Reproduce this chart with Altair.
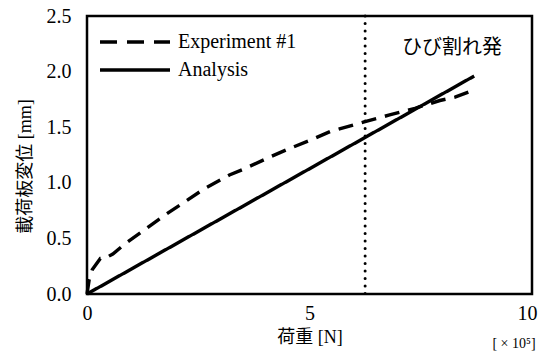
import altair as alt
import pandas as pd

# Data (load in units of 10^5 N, displacement in mm)
exp_x = [0.0, 0.05, 0.12, 0.3, 0.4, 0.58, 0.85, 1.2, 1.75, 2.2, 2.65, 3.2, 3.5, 4.1,
         4.56, 5.0, 5.46, 6.25, 6.8, 7.37, 7.93, 8.27, 8.6, 8.7]
exp_y = [0.0, 0.13, 0.22, 0.32, 0.32, 0.36, 0.45, 0.55, 0.71, 0.83, 0.95, 1.07, 1.12, 1.23,
         1.31, 1.38, 1.46, 1.55, 1.61, 1.67, 1.74, 1.77, 1.82, 1.84]
ana_x = [0.0, 8.7]
ana_y = [0.0, 1.96]
crack_x = [6.25]
crack_label = ["ひび割れ発"]
crack_label_x = [8.2]
crack_label_y = [2.21]
series = ["Experiment #1", "Analysis"]
x_ticks = [0, 5, 10]
y_ticks = [0, 0.5, 1.0, 1.5, 2.0, 2.5]

df = pd.concat([
    pd.DataFrame({"load": exp_x, "disp": exp_y, "series": series[0], "order": range(len(exp_x))}),
    pd.DataFrame({"load": ana_x, "disp": ana_y, "series": series[1], "order": range(len(ana_x))}),
])
legend_df = pd.DataFrame({"series": series, "row": list(range(len(series)))})

SERIF = "Liberation Serif, Noto Sans CJK JP"
SANS = "Noto Sans CJK JP"
DASH = alt.Scale(domain=series, range=[[15, 9], [1, 0]])

x_scale = alt.Scale(domain=[0, 10], nice=False)
y_scale = alt.Scale(domain=[0, 2.5], nice=False)
x_axis = alt.Axis(values=x_ticks, title="荷重 [N]", format="d", labelFlush=False,
                  labelOffset={"condition": {"test": "datum.value == 10", "value": -5}, "value": 0},
                  titleFont=SERIF, titleFontSize=18, titleFontWeight="normal", titlePadding=5)
y_axis = alt.Axis(values=y_ticks, format=".1f", labelFlush=False,
                  title="載荷板変位 [mm]", titleFont=SERIF, titleFontSize=18,
                  titleFontWeight="normal", titlePadding=12, titleY=150)
X = alt.X("load:Q", scale=x_scale, axis=x_axis)
Y = alt.Y("disp:Q", scale=y_scale, axis=y_axis)

lines = alt.Chart(df).mark_line(color="black", strokeWidth=3.4).encode(
    x=X, y=Y,
    strokeDash=alt.StrokeDash("series:N", scale=DASH, legend=None),
    order="order:Q",
)

crack = alt.Chart(pd.DataFrame({"load": crack_x})).mark_rule(
    color="black", strokeWidth=3, strokeDash=[0.1, 7.4], strokeCap="round"
).encode(x=X)

label = alt.Chart(pd.DataFrame({"load": crack_label_x, "disp": crack_label_y, "t": crack_label})).mark_text(
    font=SANS, fontSize=20, color="black"
).encode(x=X, y=Y, text="t:N")

unit = alt.Chart(pd.DataFrame({"t": ["[ × 10⁵]"]})).mark_text(
    font=SERIF, fontSize=14, color="black", align="center", baseline="middle"
).encode(x=alt.value(427), y=alt.value(328), text="t:N")

main = alt.layer(lines, crack, label, unit)

leg_y = alt.Y("row:Q", scale=alt.Scale(domain=[0, 1], range=[26, 54]), axis=None)
leg_lines = alt.Chart(legend_df).mark_rule(color="black", strokeWidth=3.6).encode(
    x=alt.value(13), x2=alt.value(83), y=leg_y,
    strokeDash=alt.StrokeDash("series:N", scale=alt.Scale(domain=series, range=[[17, 10], [1, 0]]), legend=None),
)
leg_text = alt.Chart(legend_df).mark_text(
    font=SERIF, fontSize=20, color="black", align="left", baseline="middle"
).encode(x=alt.value(91), y=leg_y, text="series:N")

legend = alt.layer(leg_lines, leg_text)

chart = alt.layer(main, legend).resolve_scale(
    y="independent", strokeDash="independent"
).properties(
    width=445, height=278,
    autosize=alt.AutoSizeParams(type="none"),
    padding={"left": 79, "top": 8, "right": 7, "bottom": 60},
).configure_view(
    stroke="black", strokeWidth=2.5
).configure_axis(
    grid=False, domain=False, ticks=False,
    labelFont=SERIF, labelFontSize=20, labelColor="black", titleColor="black",
).configure_axisX(labelPadding=9).configure_axisY(labelPadding=16)

chart.save("out.html", embed_options={"renderer": "svg", "actions": False})
